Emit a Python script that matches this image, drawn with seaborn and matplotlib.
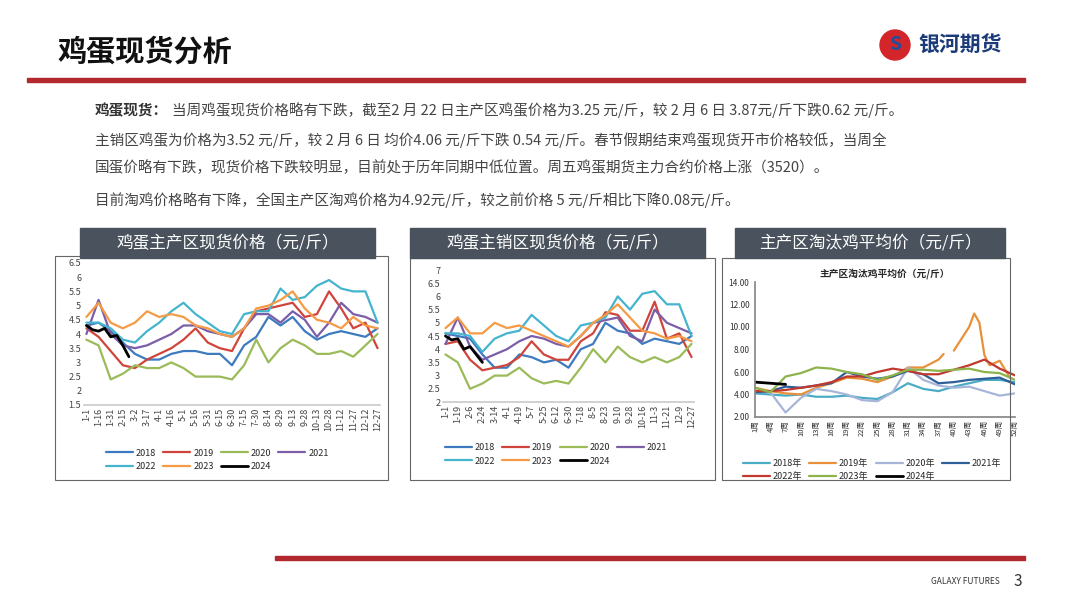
import matplotlib
matplotlib.use("Agg")
import matplotlib.pyplot as plt
import seaborn as sns
import numpy as np
from matplotlib.patches import Rectangle, Ellipse

sns.set_theme(style="white")
plt.rcParams['font.family'] = ['Noto Sans CJK SC', 'DejaVu Sans']

years = ["2018", "2019", "2020", "2021", "2022", "2023", "2024"]
colors = ["#3d7abf", "#d0453b", "#9bbb59", "#7c5ea8", "#44b4cf", "#f59a45", "#000000"]

# Chart 1: 主产区现货价格
c1_ticks = ["1-1","1-16","1-31","2-15","3-2","3-17","4-1","4-16","5-1","5-16","5-31","6-15","6-30",
            "7-15","7-30","8-14","8-29","9-13","9-28","10-13","10-28","11-12","11-27","12-12","12-27"]
c1_2018 = [4.3,4.4,4.1,3.7,3.3,3.1,3.1,3.3,3.4,3.4,3.3,3.3,2.9,3.6,3.9,4.6,4.3,4.6,4.1,3.8,4.0,4.1,4.0,3.9,4.2]
c1_2019 = [4.2,3.9,3.4,2.9,2.8,3.1,3.3,3.5,3.8,4.2,3.7,3.5,3.4,4.2,4.8,4.9,5.0,5.1,4.6,4.7,5.5,4.9,4.2,4.4,3.5]
c1_2020 = [3.8,3.6,2.4,2.6,2.9,2.8,2.8,3.0,2.8,2.5,2.5,2.5,2.4,2.9,3.8,3.0,3.5,3.8,3.6,3.3,3.3,3.4,3.2,3.6,4.0]
c1_2021 = [4.0,5.2,4.0,3.6,3.5,3.6,3.8,4.0,4.3,4.3,4.1,4.0,3.9,4.2,4.7,4.7,4.4,4.8,4.5,3.9,4.4,5.1,4.7,4.6,4.4]
c1_2022 = [4.4,4.4,4.2,3.8,3.7,4.1,4.4,4.8,5.1,4.7,4.4,4.1,4.0,4.7,4.8,4.8,5.6,5.2,5.3,5.7,5.9,5.6,5.5,5.5,4.4]
c1_2023 = [4.6,5.1,4.4,4.2,4.4,4.8,4.6,4.7,4.6,4.3,4.2,4.0,3.9,4.2,4.9,5.0,5.2,5.5,4.9,4.5,4.4,4.2,4.6,4.3,4.2]
c1_2024_x = [0,0.5,1,1.5,2,2.5,3,3.5]
c1_2024 = [4.3,4.15,4.1,4.2,3.9,3.95,3.6,3.2]

# Chart 2: 主销区现货价格
c2_ticks = ["1-1","1-19","2-6","2-24","3-14","4-1","4-19","5-7","5-25","6-12","6-30","7-18","8-5",
            "8-23","9-10","9-28","10-16","11-3","11-21","12-9","12-27"]
c2_2018 = [4.6,4.5,4.4,3.8,3.3,3.3,3.8,3.7,3.5,3.6,3.3,4.0,4.2,5.0,4.7,4.6,4.2,4.4,4.3,4.2,4.5]
c2_2019 = [4.2,4.3,3.6,3.2,3.3,3.4,3.7,4.3,3.8,3.6,3.6,4.3,4.6,5.4,5.3,4.7,4.7,5.8,4.4,4.6,3.7]
c2_2020 = [3.8,3.5,2.5,2.7,3.0,3.0,3.3,2.9,2.7,2.8,2.7,3.3,4.0,3.5,4.1,3.7,3.5,3.7,3.5,3.7,4.2]
c2_2021 = [4.2,5.2,4.1,3.6,3.8,4.0,4.3,4.5,4.4,4.2,4.1,4.5,5.0,5.1,5.2,4.5,4.3,5.5,5.0,4.8,4.6]
c2_2022 = [4.6,4.6,4.5,3.9,4.4,4.6,4.7,5.3,4.9,4.5,4.3,4.9,5.0,5.2,6.0,5.5,6.1,6.2,5.7,5.7,4.5]
c2_2023 = [4.8,5.2,4.6,4.6,5.0,4.8,4.9,4.7,4.5,4.3,4.1,4.5,5.0,5.3,5.7,5.2,4.7,4.6,4.4,4.5,4.3]
c2_2024_x = [0,0.5,1,1.5,2,2.5,3]
c2_2024 = [4.5,4.35,4.4,4.0,4.1,3.8,3.5]

# Chart 3: 淘汰鸡平均价 (weeks)
c3_weeks = [1,4,7,10,13,16,19,22,25,28,31,34,37,40,43,46,49,52]
c3_2018 = [4.1,4.0,3.9,4.0,3.8,3.8,3.9,3.7,3.6,4.2,5.0,4.5,4.3,4.7,5.0,5.3,5.3,5.1]
c3_2019_w = [1,4,7,10,13,16,19,22,25,28,31,34,37,38,39,40,43,44,45,46,47,49,51]
c3_2019 = [4.6,4.3,4.1,4.0,4.6,5.0,5.5,5.4,5.1,5.6,6.4,6.4,7.1,7.6,np.nan,7.9,10.0,11.2,10.4,7.5,6.6,7.0,5.5]
c3_2020 = [4.3,4.2,2.4,3.7,4.5,4.3,4.0,3.5,3.4,4.2,6.4,5.3,4.8,4.6,4.7,4.3,3.9,4.1]
c3_2021 = [4.2,4.3,4.7,4.6,4.8,5.0,6.0,5.6,5.4,5.6,6.1,5.8,5.0,5.1,5.3,5.4,5.5,4.9]
c3_2022 = [4.3,4.3,4.4,4.6,4.8,5.1,5.6,5.6,6.0,6.3,6.1,5.8,5.8,6.2,6.6,7.1,6.3,5.7]
c3_2023 = [4.6,4.2,5.6,5.9,6.4,6.3,6.0,5.8,5.3,5.7,6.2,6.2,6.1,6.2,6.3,6.0,5.9,5.3]
c3_2024_w = [1,4,7]
c3_2024 = [5.1,5.0,4.9]
c3_labels = ["2018年","2019年","2020年","2021年","2022年","2023年","2024年"]
c3_colors = ["#4bacc6", "#e8913a", "#a7b6d8", "#2f5f98", "#c0392f", "#8db44a", "#000000"]

W, H = 1080, 608
fig = plt.figure(figsize=(10.8, 6.08), dpi=100)
fig.patch.set_facecolor("white")

def fx(x): return x / W
def fy(y): return 1 - y / H

# Header
fig.text(fx(58), fy(52), "鸡蛋现货分析", fontsize=21, fontweight="bold", va="center", color="#111")
fig.add_artist(Rectangle((fx(27), fy(82)), fx(998), 4 / H, color="#b3282d", transform=fig.transFigure))
fig.add_artist(Ellipse((fx(895), fy(45)), 30 / W, 30 / H, color="#d3262b", transform=fig.transFigure))
fig.text(fx(895), fy(45), "S", fontsize=14, fontweight="bold", color="#1f4e9a", ha="center", va="center")
fig.text(fx(918), fy(45), "银河期货", fontsize=15, fontweight="bold", color="#1a3a7a", va="center")

para = [
    (110, "当周鸡蛋现货价格略有下跌，截至2 月 22 日主产区鸡蛋价格为3.25 元/斤，较 2 月 6 日 3.87元/斤下跌0.62 元/斤。"),
    (140, "主销区鸡蛋为价格为3.52 元/斤，较 2 月 6 日 均价4.06 元/斤下跌 0.54 元/斤。春节假期结束鸡蛋现货开市价格较低，当周全"),
    (168, "国蛋价略有下跌，现货价格下跌较明显，目前处于历年同期中低位置。周五鸡蛋期货主力合约价格上涨（3520）。"),
    (200, "目前淘鸡价格略有下降，全国主产区淘鸡价格为4.92元/斤，较之前价格 5 元/斤相比下降0.08元/斤。"),
]
fig.text(fx(95), fy(110), "鸡蛋现货：", fontsize=10.5, fontweight="bold", color="#333", va="center")
for i, (y, t) in enumerate(para):
    x0 = 172 if i == 0 else 95
    fig.text(fx(x0), fy(y), t, fontsize=10.5, color="#444", va="center")

# Chart frames and title boxes
for (x0, y0, x1, y1) in [(55, 256, 388, 480), (410, 258, 715, 480), (722, 258, 1010, 480)]:
    fig.add_artist(Rectangle((fx(x0), fy(y1)), fx(x1 - x0), (y1 - y0) / H, fill=False,
                             edgecolor="#666", lw=0.8, transform=fig.transFigure))
for (x0, x1, t) in [(80, 375, "鸡蛋主产区现货价格（元/斤）"), (410, 705, "鸡蛋主销区现货价格（元/斤）"),
                    (735, 1005, "主产区淘汰鸡平均价（元/斤）")]:
    fig.add_artist(Rectangle((fx(x0), fy(258)), fx(x1 - x0), 30 / H, color="#4a535d", transform=fig.transFigure))
    fig.text(fx((x0 + x1) / 2), fy(243), t, fontsize=12, color="white", ha="center", va="center")

def rowwise_legend(ax):
    h, l = ax.get_legend_handles_labels()
    order = [0, 4, 1, 5, 2, 6, 3]
    ax.legend([h[i] for i in order], [l[i] for i in order], loc="upper center",
              bbox_to_anchor=(0.45, -0.25), ncol=4, fontsize=6.5, frameon=False,
              handlelength=3, columnspacing=0.8, handletextpad=0.3)

def year_chart(rect, ticks, series, x24, y24, ylim, yticks):
    ax = fig.add_axes(rect)
    x = np.arange(len(ticks))
    for lab, col, vals in zip(years[:-1], colors[:-1], series):
        sns.lineplot(x=x, y=vals, ax=ax, color=col, lw=1.6, label=lab)
    sns.lineplot(x=x24, y=y24, ax=ax, color=colors[-1], lw=2, label=years[-1])
    ax.set_xlim(-0.2, len(ticks) - 0.8)
    ax.set_ylim(*ylim)
    ax.set_yticks(yticks)
    ax.set_yticklabels([f"{v:g}" for v in yticks], fontsize=6.5, color="#444")
    ax.set_xticks(x)
    ax.set_xticklabels(ticks, rotation=90, fontsize=6.5, color="#444")
    for s in ["top", "right", "left"]:
        ax.spines[s].set_visible(False)
    ax.spines["bottom"].set_color("#ccc")
    ax.tick_params(length=0, pad=2)
    rowwise_legend(ax)
    return ax

year_chart([fx(84), fy(405), fx(296), (405 - 263) / H], c1_ticks,
           [c1_2018, c1_2019, c1_2020, c1_2021, c1_2022, c1_2023], c1_2024_x, c1_2024,
           (1.5, 6.5), [1.5, 2, 2.5, 3, 3.5, 4, 4.5, 5, 5.5, 6, 6.5])
year_chart([fx(443), fy(402), fx(251), (402 - 270) / H], c2_ticks,
           [c2_2018, c2_2019, c2_2020, c2_2021, c2_2022, c2_2023], c2_2024_x, c2_2024,
           (2, 7), [2, 2.5, 3, 3.5, 4, 4.5, 5, 5.5, 6, 6.5, 7])

# Chart 3
ax3 = fig.add_axes([fx(755), fy(417), fx(260), (417 - 282) / H])
data3 = [(c3_weeks, c3_2018), (c3_2019_w, c3_2019), (c3_weeks, c3_2020), (c3_weeks, c3_2021),
         (c3_weeks, c3_2022), (c3_weeks, c3_2023), (c3_2024_w, c3_2024)]
for lab, col, (wx, wy) in zip(c3_labels, c3_colors, data3):
    ax3.plot(wx, wy, color=col, lw=1.6 if lab != "2024年" else 2, label=lab)
ax3.set_xlim(1, 52)
ax3.set_ylim(2, 14)
ax3.set_yticks([2, 4, 6, 8, 10, 12, 14])
ax3.set_yticklabels([f"{v:.2f}" for v in [2, 4, 6, 8, 10, 12, 14]], fontsize=6, color="#333")
ax3.set_xticks(c3_weeks)
ax3.set_xticklabels([f"{w}周" for w in c3_weeks], rotation=90, fontsize=5.5, color="#333")
ax3.set_xticks(range(1, 53), minor=True)
for s in ["top", "right"]:
    ax3.spines[s].set_visible(False)
ax3.spines["left"].set_color("#888")
ax3.spines["bottom"].set_color("#888")
ax3.tick_params(axis="x", which="both", length=2, direction="in", pad=2, color="#888")
ax3.tick_params(axis="y", length=2, pad=2)
ax3.set_title("主产区淘汰鸡平均价（元/斤）", fontsize=7, fontweight="bold", pad=4)
rowwise_legend(ax3)

# Footer
fig.add_artist(Rectangle((fx(275), fy(560)), fx(750), 4 / H, color="#b3282d", transform=fig.transFigure))
fig.text(fx(1000), fy(582), "GALAXY FUTURES", fontsize=6, color="#333", ha="right", va="center")
fig.text(fx(1022), fy(581), "3", fontsize=11, color="#333", ha="right", va="center")

fig.savefig("out.png", dpi=100, facecolor="white")
